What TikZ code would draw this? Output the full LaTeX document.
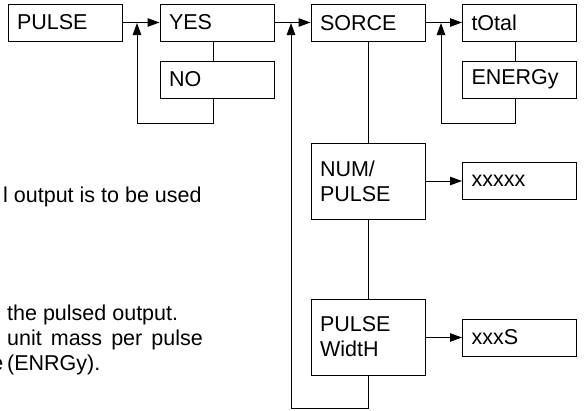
\documentclass[tikz,border=0pt]{standalone}
\usepackage{fontspec}
\setmainfont{Liberation Sans}
\usetikzlibrary{arrows.meta,calc}
\begin{document}
\begin{tikzpicture}[x=1pt,y=-1pt,
  box/.style={draw, line width=1pt, minimum height=37pt, text width=96pt,
    inner xsep=9pt, inner ysep=0pt, align=left,
    font=\fontsize{21.5}{25}\selectfont},
  tall/.style={box, minimum height=76pt},
  conn/.style={line width=1pt},
  arr/.style={conn, -{Triangle[length=12pt,width=8.5pt]}},
  note/.style={anchor=west, inner sep=0pt, font=\fontsize{21.5}{25}\selectfont}]
\useasboundingbox (0,0) rectangle (585,410);
\clip (0,0) rectangle (585,410);
% boxes
\node[box] (pulse) at (65,22.5) {PULSE};
\node[box] (yes) at (217,22.5) {YES};
\node[box] (no) at (217,79.5) {NO};
\node[box] (sorce) at (368,23) {SORCE};
\node[box] (total) at (519.5,22.5) {tOtal};
\node[box] (energy) at (519.5,79.5) {ENERGy};
\node[tall] (num) at (368,181) {NUM/\\PULSE};
\node[box] (xxxxx) at (519.5,181) {xxxxx};
\node[tall] (pw) at (368,337) {PULSE\\WidtH};
\node[box] (xxxs) at (519.5,337.5) {xxxS};
% coordinates
\coordinate (yb) at ($(yes.south)+(-4,0)$);
\coordinate (nt) at ($(no.north)+(-4,0)$);
\coordinate (nb) at ($(no.south)+(-4,0)$);
\coordinate (tb) at ($(total.south)+(-4,0)$);
\coordinate (et) at ($(energy.north)+(-4,0)$);
\coordinate (eb) at ($(energy.south)+(-4,0)$);
\coordinate (j1) at (137,23);
\coordinate (j2) at (291,23);
\coordinate (j3) at (441,23);
% horizontal arrows
\draw[arr] (pulse.east) -- (yes.west);
\draw[arr] (yes.east) -- (sorce.west |- yes.east);
\draw[arr] (sorce.east |- total.west) -- (total.west);
\draw[arr] (num.east) -- (xxxxx.west);
\draw[arr] (pw.east |- xxxs.west) -- (xxxs.west);
% vertical links
\draw[conn] (yb) -- (nt);
\draw[conn] (tb) -- (et);
\draw[conn] (sorce.south) -- (num.north);
\draw[conn] (num.south) -- (pw.north);
% feedback loops
\draw[arr] (nb) -- (nb |- 0,123) -- (j1 |- 0,123) -- (j1);
\draw[arr] (eb) -- (eb |- 0,123) -- (j3 |- 0,123) -- (j3);
\draw[arr] (pw.south) -- (pw.south |- 0,408) -- (j2 |- 0,408) -- (j2);
% left text
\node[note] (t1) at (3,197) {l output is to be used};
\node[note] (t2) at (7,315) {the pulsed output.};
\node[note] (t3) at (7,340) {unit\hspace{0.42em}mass\hspace{0.42em}per\hspace{0.42em}pulse};
\node[note] (t4) at (7,365) {(ENRGy).};
\node[note, anchor=east] (t5) at (3.5,365) {e};
\end{tikzpicture}
\end{document}
